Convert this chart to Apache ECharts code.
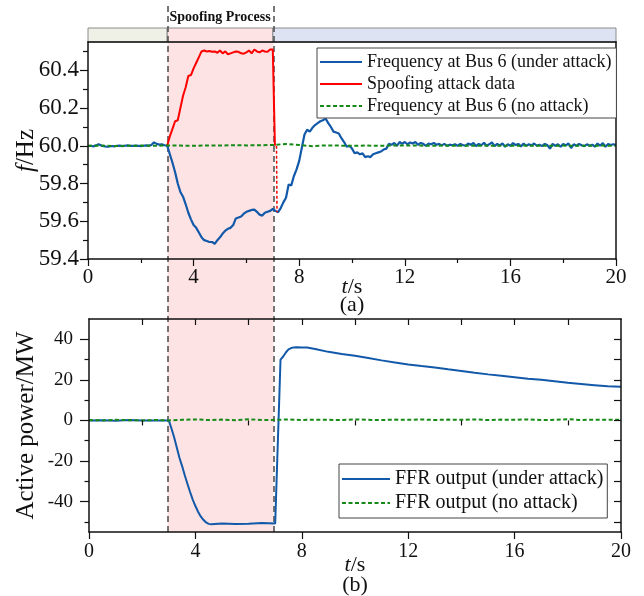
<!DOCTYPE html>
<html><head><meta charset="utf-8">
<script src="https://cdn.jsdelivr.net/npm/echarts@6/dist/echarts.min.js"></script>
<style>html,body{margin:0;padding:0;background:#fff}#c{width:644px;height:596px}</style>
</head><body><div id="c"></div>
<script>
const FONT = "'Liberation Serif','Times New Roman',serif";

// ---- Top panel: frequency at Bus 6 (Hz), sampled every 0.1 s from t = 0 ----
const freqStep = 0.1;
const freqAttack = [
  59.998, 60.000, 59.997, 60.002, 60.008, 60.001, 59.998, 59.995, 59.996, 59.999, // 0
  59.997, 60.000, 60.001, 59.998, 60.000, 60.002, 60.000, 59.999, 60.001, 60.000, // 1
  59.998, 60.000, 60.002, 60.001, 60.004, 60.018, 60.010, 60.006, 60.008, 60.003, // 2
  60.000, 59.955, 59.910, 59.860, 59.800, 59.755, 59.730, 59.690, 59.645, 59.610, // 3
  59.580, 59.565, 59.540, 59.515, 59.500, 59.495, 59.490, 59.490, 59.480, 59.500, // 4
  59.515, 59.535, 59.550, 59.560, 59.565, 59.580, 59.615, 59.620, 59.625, 59.640, // 5
  59.650, 59.655, 59.660, 59.662, 59.650, 59.635, 59.630, 59.645, 59.650, 59.655, // 6
  59.665, 59.655, 59.648, 59.670, 59.700, 59.725, 59.795, 59.790, 59.840, 59.875, // 7
  59.920, 59.990, 60.060, 60.085, 60.075, 60.095, 60.110, 60.120, 60.130, 60.135, // 8
  60.145, 60.120, 60.100, 60.075, 60.070, 60.065, 60.040, 60.020, 59.995, 60.000, // 9
  59.985, 59.960, 59.965, 59.955, 59.960, 59.940, 59.945, 59.940, 59.955, 59.960, // 10
  59.965, 59.970, 59.980, 59.985, 60.010, 60.005, 60.015, 60.000, 60.020, 60.010, // 11
  60.020, 60.008, 60.018, 60.012, 60.020, 60.005, 60.015, 60.010, 60.000, 60.012, // 12
  60.008, 60.015, 60.005, 60.010, 60.002, 60.010, 60.000, 60.006, 60.003, 60.008, // 13
  60.000, 60.010, 60.004, 60.000, 60.012, 60.005, 60.015, 59.998, 60.010, 60.003, // 14
  60.016, 60.000, 60.008, 60.018, 59.998, 60.010, 60.002, 60.012, 59.995, 60.008, // 15
  60.000, 60.014, 60.004, 60.010, 59.996, 60.012, 60.000, 60.008, 60.002, 60.012, // 16
  60.000, 60.006, 59.998, 60.010, 60.004, 59.985, 60.010, 60.000, 60.008, 59.995, // 17
  60.010, 60.002, 60.012, 59.988, 60.008, 60.000, 60.010, 60.003, 59.998, 60.008, // 18
  60.000, 60.006, 59.995, 60.012, 60.000, 60.014, 59.995, 60.010, 60.004, 60.008, // 19
  60.005                                                                          // 20
];
const noAttackStep = 0.5;
const freqNoAttack = [
  60.000, 60.001, 59.999, 60.000, 60.001, 60.000, 60.002, 60.001, 60.000, 60.002,
  60.001, 60.003, 60.002, 60.003, 60.004, 60.010, 60.004, 59.998, 60.002, 60.001,
  60.000, 60.001, 60.000, 60.001, 60.002, 60.001, 60.000, 60.001, 60.000, 60.000,
  60.001, 60.000, 60.000, 60.001, 60.000, 60.000, 60.001, 60.000, 60.000, 60.001,
  60.000
];
const spoofTime = [
  3.0, 3.1, 3.2, 3.3, 3.4, 3.5, 3.6, 3.7, 3.8, 3.9, 4.0, 4.1, 4.2, 4.3, 4.4,
  4.5, 4.6, 4.7, 4.8, 4.9, 5.0, 5.1, 5.2, 5.3, 5.4, 5.5, 5.6, 5.7, 5.8, 5.9,
  6.0, 6.1, 6.2, 6.3, 6.4, 6.5, 6.6, 6.7, 6.8, 6.9, 7.0, 7.08
];
const spoofFreq = [
  60.000, 60.050, 60.090, 60.130, 60.135, 60.200, 60.265, 60.310, 60.370, 60.375,
  60.410, 60.440, 60.470, 60.500, 60.505,
  60.500, 60.502, 60.498, 60.500, 60.493, 60.505, 60.490, 60.500, 60.485, 60.490,
  60.495, 60.500, 60.498, 60.490, 60.488, 60.495, 60.505, 60.490, 60.510, 60.500,
  60.495, 60.505, 60.500, 60.498, 60.510, 60.510, 60.000
];
const spoofLinkTime = [7.14, 7.16];
const spoofLinkFreq = [60.000, 59.648];

// ---- Bottom panel: FFR active power (MW) ----
const powerTime = [
  0, 0.5, 1.0, 1.5, 2.0, 2.5, 3.0, 3.1, 3.2, 3.3, 3.4, 3.5, 3.6, 3.7, 3.8, 3.9,
  4.0, 4.1, 4.2, 4.3, 4.4, 4.5, 4.6, 5.0, 5.5, 6.0, 6.5, 7.0, 7.2, 7.3, 7.4, 7.5,
  7.6, 7.7, 7.8, 8.0, 8.2, 8.5, 9.0, 9.5, 10.0, 10.5, 11.0, 11.5, 12.0, 12.5,
  13.0, 13.5, 14.0, 14.5, 15.0, 15.5, 16.0, 16.5, 17.0, 17.5, 18.0, 18.5, 19.0,
  19.5, 20.0
];
const powerAttack = [
  0, 0.1, -0.1, 0.2, 0, 0, 0, -4, -8.3, -13.3, -18.4, -22.5, -27, -31.2, -35.3, -39,
  -42.2, -45, -47.3, -49, -50.3, -51, -51.2, -50.8, -51.1, -50.9, -50.6, -50.8, 30, 31.5, 33.5, 35,
  35.7, 36, 36.1, 36.0, 35.9, 35.2, 33.8, 32.8, 31.9, 30.8, 29.6, 28.6, 27.6, 26.8,
  26.1, 25.2, 24.4, 23.5, 22.7, 22.0, 21.3, 20.6, 20.0, 19.3, 18.6, 18.0, 17.4,
  16.8, 16.6
];
const powerNoAttack = [
  0.2, 0, 0.3, 0.1, 0, 0.2, 0, 0.3, 0.5, 0.2, 0.4, 0.1, 0.6, 0.2, 0.3, 0.5, 0.2, 0.4, 0.3, 0.2,
  0.5, 0.3, 0.2, 0.4, 0.3, 0.5, 0.2, 0.4, 0.3, 0.5, 0.2, 0.4, 0.3, 0.5, 0.2, 0.3, 0.6, 0.2, 0.4,
  0.3, 0.3
];

// ---- Tick labels ----
const timeTicks = [0, 4, 8, 12, 16, 20];
const timeMinor = [2, 6, 10, 14, 18];
const timeInner = [2, 4, 6, 8, 10, 12, 14, 16, 18];
const freqTicks = [59.4, 59.6, 59.8, 60.0, 60.2, 60.4];
const freqMinor = [59.5, 59.7, 59.9, 60.1, 60.3, 60.5];
const powerTicks = [-40, -20, 0, 20, 40];
const powerMinor = [-50, -30, -10, 10, 30];
const powerInner = [-50, -40, -30, -20, -10, 0, 10, 20, 30, 40];
const attackStart = 3, attackEnd = 7;

const BLUE = '#1259a9', RED = '#ff0000', GREEN = '#168a16', INK = '#111';

const stepPairs = (vals, step) => vals.map((v, i) => [+(i * step).toFixed(2), v]);
const zipPairs = (ts, vs) => ts.map((t, i) => [t, vs[i]]);

function ax(o) {
  return Object.assign({
    type: 'value', z: 10, splitLine: { show: false }, nameMoveOverlap: false,
    axisLine: { show: false }, axisTick: { show: false }, axisLabel: { show: false }
  }, o);
}
const line = { show: true, onZero: false, lineStyle: { color: INK, width: 1.5 } };
const tick = (len, vals, inside) => ({ show: true, length: len, inside: !!inside, customValues: vals, lineStyle: { color: INK, width: 1.2 } });
const lbl = (size, margin, vals, fmt) => ({ show: true, fontSize: size, fontFamily: FONT, color: INK, margin: margin, customValues: vals, formatter: fmt });

const legendBase = {
  orient: 'vertical', borderColor: '#444', borderWidth: 1, backgroundColor: '#fff',
  itemStyle: { opacity: 0, borderWidth: 0 }, z: 20
};

const chart = echarts.init(document.getElementById('c'));
chart.setOption({
  animation: false,
  backgroundColor: '#fff',
  grid: [
    { left: 88, top: 42, width: 528, height: 217, outerBoundsMode: 'none' },
    { left: 89, top: 319, width: 532, height: 213, outerBoundsMode: 'none' },
    { left: 88, top: 28, width: 530, height: 504, outerBoundsMode: 'none' },
    { left: 88, top: 5, width: 530, height: 527, outerBoundsMode: 'none' },
    { left: 88, top: 28, width: 528, height: 14, outerBoundsMode: 'none' }
  ],
  xAxis: [
    ax({ gridIndex: 0, min: 0, max: 20, interval: 4, position: 'bottom', axisLine: line,
      axisTick: tick(7, timeTicks), axisLabel: lbl(21, 8, timeTicks),
      name: '{i|t}/s\n(a)', nameLocation: 'middle', nameGap: 19,
      nameTextStyle: { fontFamily: FONT, fontSize: 22, color: INK, lineHeight: 18,
        rich: { i: { fontStyle: 'italic', fontFamily: FONT, fontSize: 22, lineHeight: 18, color: INK } } } }),
    ax({ gridIndex: 0, min: 0, max: 20, interval: 2, position: 'bottom', axisTick: tick(4, timeMinor) }),
    ax({ gridIndex: 0, min: 0, max: 20, interval: 4, position: 'top', axisLine: line }),
    ax({ gridIndex: 1, min: 0, max: 20, interval: 4, position: 'bottom', axisLine: line,
      axisTick: tick(7, timeTicks), axisLabel: lbl(20, 10, timeTicks),
      name: '{i|t}/s\n(b)', nameLocation: 'middle', nameGap: 23,
      nameTextStyle: { fontFamily: FONT, fontSize: 22, color: INK, lineHeight: 20,
        rich: { i: { fontStyle: 'italic', fontFamily: FONT, fontSize: 22, lineHeight: 20, color: INK } } } }),
    ax({ gridIndex: 1, min: 0, max: 20, interval: 2, position: 'bottom', axisTick: tick(5, timeMinor) }),
    ax({ gridIndex: 1, min: 0, max: 20, interval: 2, position: 'top', axisLine: line, axisTick: tick(6, timeInner, true) }),
    ax({ gridIndex: 2, min: 0, max: 20, show: false }),
    ax({ gridIndex: 3, min: 0, max: 20, show: false }),
    ax({ gridIndex: 4, min: 0, max: 20, show: false })
  ],
  yAxis: [
    ax({ gridIndex: 0, min: 59.4, max: 60.55, interval: 0.1, position: 'left', axisLine: line,
      axisTick: tick(8, freqTicks), axisLabel: lbl(23, 9, freqTicks, v => v.toFixed(1)),
      name: '{i|f}/Hz', nameLocation: 'middle', nameRotate: 90, nameGap: 49,
      nameTextStyle: { fontFamily: FONT, fontSize: 25, color: INK,
        rich: { i: { fontStyle: 'italic', fontFamily: FONT, fontSize: 25, color: INK } } } }),
    ax({ gridIndex: 0, min: 59.4, max: 60.55, interval: 0.1, position: 'left', axisTick: tick(5, freqMinor) }),
    ax({ gridIndex: 0, min: 59.4, max: 60.55, interval: 0.1, position: 'right', axisLine: line }),
    ax({ gridIndex: 1, min: -55, max: 50, interval: 5, position: 'left', axisLine: line,
      axisTick: tick(9, powerTicks), axisLabel: lbl(19, 16, powerTicks),
      name: 'Active power/MW', nameLocation: 'middle', nameRotate: 90, nameGap: 50,
      nameTextStyle: { fontFamily: FONT, fontSize: 25, color: INK } }),
    ax({ gridIndex: 1, min: -55, max: 50, interval: 5, position: 'left', axisTick: tick(4.5, powerMinor) }),
    ax({ gridIndex: 1, min: -55, max: 50, interval: 5, position: 'right', axisLine: line, axisTick: tick(7, powerInner, true) }),
    ax({ gridIndex: 2, min: 0, max: 1, show: false }),
    ax({ gridIndex: 3, min: 0, max: 1, show: false }),
    ax({ gridIndex: 4, min: 0, max: 1, show: false })
  ],
  legend: [
    Object.assign({}, legendBase, {
      data: ['Frequency at Bus 6 (under attack)', 'Spoofing attack data', 'Frequency at Bus 6 (no attack)'],
      left: 317, top: 48, itemWidth: 42, itemHeight: 14, itemGap: 4, padding: [5, 5, 3, 2],
      textStyle: { fontFamily: FONT, fontSize: 18, color: INK } }),
    Object.assign({}, legendBase, {
      data: ['FFR output (under attack)', 'FFR output (no attack)'],
      left: 339, top: 464, itemWidth: 48, itemHeight: 14, itemGap: 4, padding: [5, 4, 5, 2],
      textStyle: { fontFamily: FONT, fontSize: 20, color: INK } })
  ],
  series: [
    { type: 'line', xAxisIndex: 6, yAxisIndex: 6, data: [[0, 0]], symbol: 'none', silent: true, z: 1,
      markArea: { silent: true, itemStyle: { color: '#fde3e3' }, label: { show: false },
        data: [[{ xAxis: attackStart }, { xAxis: attackEnd }]] } },
    { type: 'line', xAxisIndex: 8, yAxisIndex: 8, data: [[0, 0]], symbol: 'none', silent: true, z: 2,
      markArea: { silent: true, itemStyle: { borderColor: '#8c8c8c', borderWidth: 1 }, label: { show: false },
        data: [
          [{ xAxis: 0, itemStyle: { color: '#eff0e6' } }, { xAxis: attackStart }],
          [{ xAxis: attackStart, itemStyle: { color: '#fde3e3' },
             label: { show: true, position: 'top', distance: 3, formatter: 'Spoofing Process',
               fontFamily: FONT, fontWeight: 'bold', fontSize: 14, color: INK } }, { xAxis: attackEnd }],
          [{ xAxis: attackEnd, itemStyle: { color: '#dde3f3' } }, { xAxis: 20 }]
        ] } },
    { type: 'line', xAxisIndex: 7, yAxisIndex: 7, data: [[0, 0]], symbol: 'none', silent: true, z: 4,
      markLine: { silent: true, symbol: 'none', label: { show: false },
        lineStyle: { type: [6, 4], color: '#4a4a4a', width: 1.5 },
        data: [{ xAxis: attackStart }, { xAxis: attackEnd }] } },
    { name: 'Frequency at Bus 6 (under attack)', type: 'line', xAxisIndex: 0, yAxisIndex: 0, z: 5,
      symbol: 'none', data: stepPairs(freqAttack, freqStep), lineStyle: { color: BLUE, width: 2.2 }, itemStyle: { color: BLUE } },
    { name: 'Spoofing attack data', type: 'line', xAxisIndex: 0, yAxisIndex: 0, z: 6,
      symbol: 'none', data: zipPairs(spoofTime, spoofFreq), lineStyle: { color: RED, width: 2 }, itemStyle: { color: RED } },
    { name: 'spoof link', type: 'line', xAxisIndex: 0, yAxisIndex: 0, z: 6,
      symbol: 'none', data: zipPairs(spoofLinkTime, spoofLinkFreq), lineStyle: { color: RED, width: 1.5, type: [3, 2] } },
    { name: 'Frequency at Bus 6 (no attack)', type: 'line', xAxisIndex: 0, yAxisIndex: 0, z: 7,
      symbol: 'none', data: stepPairs(freqNoAttack, noAttackStep), lineStyle: { color: GREEN, width: 2, type: [4, 2.5] }, itemStyle: { color: GREEN } },
    { name: 'FFR output (under attack)', type: 'line', xAxisIndex: 3, yAxisIndex: 3, z: 5,
      symbol: 'none', data: zipPairs(powerTime, powerAttack), lineStyle: { color: BLUE, width: 2 }, itemStyle: { color: BLUE } },
    { name: 'FFR output (no attack)', type: 'line', xAxisIndex: 3, yAxisIndex: 3, z: 7,
      symbol: 'none', data: stepPairs(powerNoAttack, noAttackStep), lineStyle: { color: GREEN, width: 2, type: [4, 2.5] }, itemStyle: { color: GREEN } }
  ]
});
</script></body></html>
